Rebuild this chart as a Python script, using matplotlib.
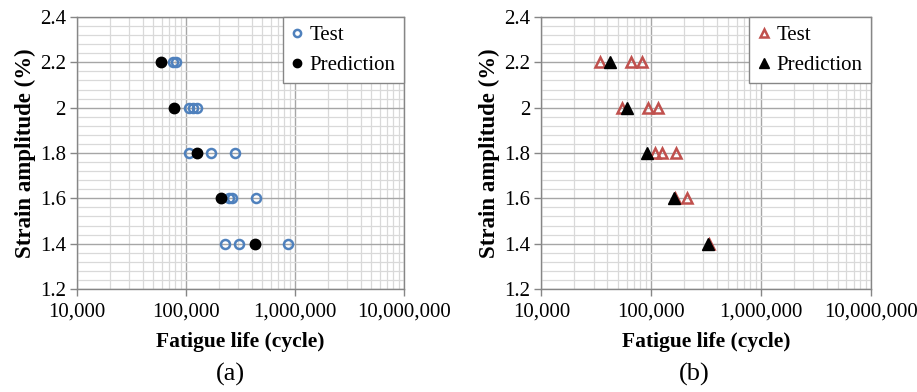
import matplotlib
matplotlib.use("Agg")
import matplotlib.pyplot as plt
from matplotlib.ticker import FixedLocator, LogLocator, NullFormatter, FuncFormatter, MultipleLocator

plt.rcParams['font.family'] = ['Liberation Serif', 'DejaVu Serif']

# (a) circle specimens
a_test_life = [76500, 80900, 107000, 117000, 127000, 107000, 170000, 280000,
               250000, 262000, 442000, 228000, 306000, 857000]
a_test_strain = [2.2, 2.2, 2.0, 2.0, 2.0, 1.8, 1.8, 1.8, 1.6, 1.6, 1.6, 1.4, 1.4, 1.4]
a_pred_life = [58600, 77000, 126000, 209000, 430000]
a_pred_strain = [2.2, 2.0, 1.8, 1.6, 1.4]

# (b) triangle specimens
b_test_life = [34300, 65300, 82300, 54700, 94500, 115000, 109000, 127000, 169000,
               164000, 214000, 336000]
b_test_strain = [2.2, 2.2, 2.2, 2.0, 2.0, 2.0, 1.8, 1.8, 1.8, 1.6, 1.6, 1.4]
b_pred_life = [42300, 60800, 92500, 160000, 333000]
b_pred_strain = [2.2, 2.0, 1.8, 1.6, 1.4]

x_limits = (1e4, 1e7)
y_limits = (1.2, 2.4)
y_ticks = [1.2, 1.4, 1.6, 1.8, 2.0, 2.2, 2.4]

BLUE = '#4f81bd'
RED = '#c0504d'
SPINE = '#868686'

fig = plt.figure(figsize=(9.17, 3.92), dpi=100)
ax_a = fig.add_axes([0.0840, 0.2628, 0.3566, 0.6939])
ax_b = fig.add_axes([0.5903, 0.2628, 0.3592, 0.6939])


def style_axes(ax):
    ax.set_xscale('log')
    ax.set_xlim(*x_limits)
    ax.set_ylim(*y_limits)
    ax.xaxis.set_major_locator(FixedLocator([1e4, 1e5, 1e6, 1e7]))
    ax.xaxis.set_minor_locator(LogLocator(base=10, subs=range(2, 10)))
    ax.xaxis.set_minor_formatter(NullFormatter())
    ax.xaxis.set_major_formatter(FuncFormatter(lambda v, p: f"{int(round(v)):,}"))
    ax.yaxis.set_major_locator(FixedLocator(y_ticks))
    ax.yaxis.set_minor_locator(MultipleLocator(0.04))
    ax.yaxis.set_major_formatter(FuncFormatter(lambda v, p: f"{v:g}"))
    ax.grid(True, which='major', color='#a6a6a6', lw=1.0)
    ax.grid(True, which='minor', color='#d9d9d9', lw=0.9)
    ax.set_axisbelow(True)
    for s in ax.spines.values():
        s.set_color(SPINE)
        s.set_linewidth(1.0)
    ax.tick_params(which='major', direction='out', length=5, width=1.0,
                   color=SPINE, labelsize=15)
    ax.tick_params(axis='x', which='major', pad=5)
    ax.tick_params(axis='y', which='major', pad=3)
    ax.tick_params(which='minor', length=0)
    ax.set_xlabel('Fatigue life (cycle)', fontsize=15.5, fontweight='bold', labelpad=7)
    ax.set_ylabel('Strain amplitude (%)', fontsize=16.5, fontweight='bold', labelpad=3)


style_axes(ax_a)
style_axes(ax_b)

ax_a.plot(a_test_life, a_test_strain, ls='none', marker='o', ms=6.5, mfc='none',
          mec=BLUE, mew=1.8, label='Test', zorder=3)
ax_a.plot(a_pred_life, a_pred_strain, ls='none', marker='o', ms=7.5, mfc='black',
          mec='black', label='Prediction', zorder=4)

ax_b.plot(b_test_life, b_test_strain, ls='none', marker='^', ms=7.5, mfc='none',
          mec=RED, mew=1.8, label='Test', zorder=3)
ax_b.plot(b_pred_life, b_pred_strain, ls='none', marker='^', ms=8.5, mfc='black',
          mec='black', label='Prediction', zorder=4)

for ax in (ax_a, ax_b):
    leg = ax.legend(loc='upper right', borderaxespad=0, fancybox=False,
                    fontsize=15, handlelength=0.6, handletextpad=0.3,
                    borderpad=0.4, labelspacing=0.5, framealpha=1,
                    edgecolor=SPINE, markerscale=0.8)
    leg.get_frame().set_linewidth(1.0)

fig.text(0.251, 0.045, '(a)', fontsize=19, ha='center', va='center')
fig.text(0.757, 0.045, '(b)', fontsize=19, ha='center', va='center')

fig.savefig('out.png', dpi=100)
